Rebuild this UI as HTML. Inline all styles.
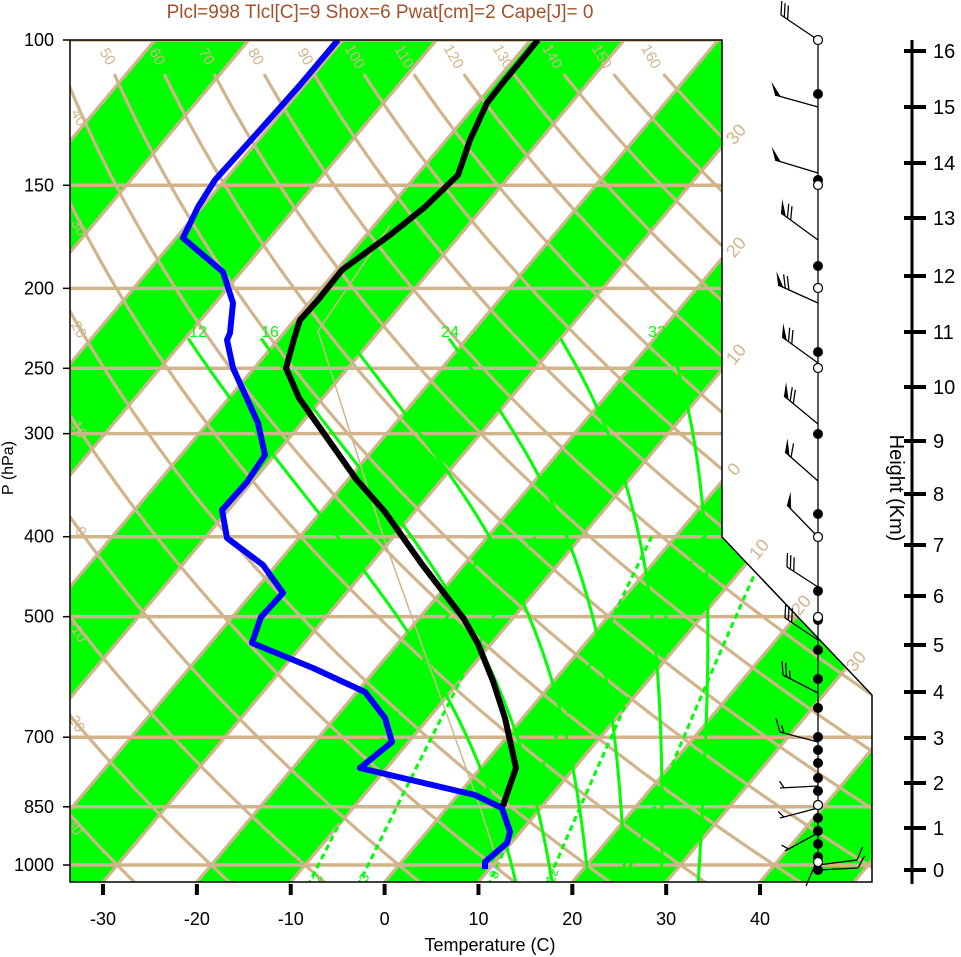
<!DOCTYPE html>
<html><head><meta charset="utf-8"><style>
html,body{margin:0;padding:0;background:#fff;}
svg{display:block;font-family:"Liberation Sans",Arial,sans-serif;}
</style></head><body>
<svg id="s" width="961" height="957" viewBox="0 0 961 957" xmlns="http://www.w3.org/2000/svg">
<defs><clipPath id="cp"><path d="M70,40 L722,40 L722,537 L872,695 L872,882 L70,882 Z"/></clipPath></defs>
<g id="plot" clip-path="url(#cp)"></g>
<g id="over"></g>
<path d="M70,40 L722,40 L722,537 L872,695 L872,882 L70,882 Z" fill="none" stroke="#000" stroke-width="1.5"/>
<text x="380" y="18" font-size="19" fill="#A0522D" text-anchor="middle">Plcl=998 Tlcl[C]=9 Shox=6 Pwat[cm]=2 Cape[J]= 0</text>
<g id="axes"></g>
</svg>
<script>
(function(){
var NS="http://www.w3.org/2000/svg";
var K=0.842;
function yP(p){return 40+358.3*Math.log(p/100);}
function xT(T,y){return 384.6+9.386*T+K*(882-y);}
function el(par,tag,attrs,txt){var e=document.createElementNS(NS,tag);for(var k in attrs)e.setAttribute(k,attrs[k]);if(txt!==undefined)e.textContent=txt;par.appendChild(e);return e;}
var plot=document.getElementById('plot'),over=document.getElementById('over'),axes=document.getElementById('axes');
var TAN="#D2B48C",GRN="#00FF00";
for(var T=-200;T<=60;T+=20){
  var pts=[[xT(T,0),0],[xT(T+10,0),0],[xT(T+10,960),960],[xT(T,960),960]];
  el(plot,'polygon',{points:pts.map(function(a){return a.join(',')}).join(' '),fill:GRN});
}
for(var T=-200;T<=80;T+=10){
  el(plot,'line',{x1:xT(T,0),y1:0,x2:xT(T,960),y2:960,stroke:TAN,'stroke-width':3.2});
}
[100,150,200,250,300,400,500,700,850,1000].forEach(function(p){var y=yP(p);
  el(plot,'line',{x1:60,y1:y,x2:900,y2:y,stroke:TAN,'stroke-width':3.5});});
for(var th=-40;th<=160;th+=10){
  var s=[];for(var p=1060;p>=110;p*=0.98){var y=yP(p);var Tc=(th+273.15)*Math.pow(p/1000,0.286)-273.15;s.push(xT(Tc,y).toFixed(1)+','+y.toFixed(1));}
  var y=yP(110);var Tc=(th+273.15)*Math.pow(0.11,0.286)-273.15;s.push(xT(Tc,y).toFixed(1)+','+y.toFixed(1));
  el(plot,'polyline',{points:s.join(' '),fill:'none',stroke:TAN,'stroke-width':3.2});
}
function es(Tc){return 6.112*Math.exp(17.67*Tc/(Tc+243.5));}
function dTdp(T,p){var Tc=T-273.15;var e=es(Tc);var rs=0.622*e/(p-e);var Rd=287,L=2.5e6,cp=1004;
  return (1/p)*(Rd*T+L*rs)/(cp+L*L*rs*0.622/(Rd*T*T));}
[12,16,20,24,28,32].forEach(function(tw){
  var T=tw+273.15,p=1000,pts=[];
  var Td=T,pd=1000;while(pd<1060){Td+=dTdp(Td,pd)*2;pd+=2;}
  T=Td;p=1060;
  while(p>228){var y=yP(p);pts.push(xT(T-273.15,y).toFixed(1)+','+y.toFixed(1));T-=dTdp(T,p)*2;p-=2;}
  el(plot,'polyline',{points:pts.join(' '),fill:'none',stroke:GRN,'stroke-width':3});
});
[2,3,8,12,20].forEach(function(w){
  var pts=[];for(var p=1060;p>=400;p-=10){var e=w*p/(622+w);var l=Math.log(e/6.112);var Td=243.5*l/(17.67-l);var y=yP(p);pts.push(xT(Td,y).toFixed(1)+','+y.toFixed(1));}
  el(plot,'polyline',{points:pts.join(' '),fill:'none',stroke:GRN,'stroke-width':3,'stroke-dasharray':'6,4'});
});
el(plot,'polyline',{points:'390,225 318,331 384,539 481,810 500,870',fill:'none',stroke:TAN,'stroke-width':1.5});
function lab(par,x,y,t,col,rot,fs){el(par,'text',{x:x,y:y,fill:col,'font-size':fs||14,'text-anchor':'middle','dominant-baseline':'middle',transform:'rotate('+rot+' '+x+' '+y+')'},t);}
var top=[50,60,70,80,90,100,110,120,130,140,150,160];
top.forEach(function(t,i){lab(plot,107+i*49.4,57,String(t),TAN,60,15);});
[[40,78,118],[30,78,228],[20,78,330],[10,78,430],[0,80,532],[-10,77,632],[-20,75,722],[-30,73,825]].forEach(function(a){lab(plot,a[1],a[2],String(a[0]),TAN,60,15);});
lab(over,737,135,'30',TAN,-50,18);lab(over,737,248,'20',TAN,-50,18);lab(over,737,355,'10',TAN,-50,18);lab(over,735,470,'0',TAN,-50,18);
lab(over,760,550,'10',TAN,-50,18);lab(over,802,606,'20',TAN,-50,18);lab(over,857,662,'30',TAN,-50,18);
[[12,198,333],[16,270,333],[24,450,333],[32,657,333]].forEach(function(a){lab(plot,a[1],a[2],String(a[0]),GRN,0,16);});
[['2',318,878],['3',365,878],['8',495,875],['12',553,876]].forEach(function(a){lab(plot,a[1],a[2],a[0],GRN,-70,13);});
el(plot,'polyline',{points:'338,40 300,85 260,130 215,180 198,207 183,238 223,272 233,303 230,333 227,340 233,368 258,423 265,455 247,482 222,510 227,538 263,565 283,593 261,617 252,643 313,668 365,692 385,718 392,742 360,768 475,795 502,808 510,832 507,843 485,862 485,869',fill:'none',stroke:'#0000FF','stroke-width':6,'stroke-linejoin':'round'});
el(plot,'polyline',{points:'538,40 520,62 505,80 487,103 470,140 458,175 425,207 390,235 342,270 318,300 300,320 294,339 286,368 299,398 356,479 385,512 421,563 464,619 478,644 493,681 505,718 516,768 509,788 503,806',fill:'none',stroke:'#000','stroke-width':6,'stroke-linejoin':'round'});
el(over,'line',{x1:818,y1:40,x2:818,y2:870,stroke:'#000','stroke-width':1.3});
function barb(x0,y0,x1,y1,spec){
  el(over,'line',{x1:x0,y1:y0,x2:x1,y2:y1,stroke:'#000','stroke-width':1.3});
  var dx=x1-x0,dy=y1-y0,L=Math.sqrt(dx*dx+dy*dy),ux=dx/L,uy=dy/L,nx=-uy,ny=ux;
  if(ux>0){nx=uy;ny=-ux;}
  var fx=nx+0.6*ux,fy=ny+0.6*uy,fl=Math.sqrt(fx*fx+fy*fy);fx/=fl;fy/=fl;
  var px=x1,py=y1;
  for(var i=0;i<spec.length;i++){var c=spec[i];
    if(c=='P'){el(over,'polygon',{points:px+','+py+' '+(px+fx*14)+','+(py+fy*14)+' '+(px-ux*6)+','+(py-uy*6),fill:'#000'});px-=ux*8;py-=uy*8;}
    else if(c=='F'){el(over,'line',{x1:px,y1:py,x2:px+fx*14,y2:py+fy*14,stroke:'#000','stroke-width':1.3});px-=ux*4;py-=uy*4;}
    else {if(i==0){px-=ux*4;py-=uy*4;}el(over,'line',{x1:px,y1:py,x2:px+fx*8,y2:py+fy*8,stroke:'#000','stroke-width':1.3});px-=ux*4;py-=uy*4;}
  }
}
[[818,40,781,15,'FFF'],[818,107,775,95,'P'],[818,173,775,160,'P'],[818,240,781,213,'PFF'],[818,303,778,285,'PFF'],[818,363,782,337,'PFF'],[818,424,784,396,'PFF'],[818,481,785,452,'PF'],[818,537,787,505,'P'],[818,587,787,567,'FFF'],[818,640,785,618,'FFF'],[818,693,783,675,'FFH'],[818,742,780,732,'FH'],[818,786,780,788,'H'],[818,808,780,818,'H'],[818,833,785,851,'H'],[818,865,857,860,'F'],[818,870,858,868,'F'],[818,858,806,886,'']].forEach(function(b){barb(b[0],b[1],b[2],b[3],b[4]);});
[94,180,266,352,434,514,591,620,650,679,708,737,750,763,778,791,805,818,831,844,857,870].forEach(function(y){el(over,'circle',{cx:818,cy:y,r:5,fill:'#000'});});
[40,185,288,368,537,617,805,862].forEach(function(y){el(over,'circle',{cx:818,cy:y,r:4.5,fill:'#fff',stroke:'#000','stroke-width':1.2});});
[100,150,200,250,300,400,500,700,850,1000].forEach(function(p){var y=yP(p);
  el(axes,'line',{x1:63,y1:y,x2:70,y2:y,stroke:'#000','stroke-width':1.5});
  el(axes,'text',{x:54,y:y+6,'font-size':18,'text-anchor':'end',fill:'#000'},String(p));});
el(axes,'text',{x:13,y:468,'font-size':16,'text-anchor':'middle',transform:'rotate(-90 13 468)'},'P (hPa)');
for(var T=-30;T<=40;T+=10){var x=xT(T,882);
  el(axes,'line',{x1:x,y1:884,x2:x,y2:895,stroke:'#000','stroke-width':4});
  el(axes,'text',{x:x,y:925,'font-size':18,'text-anchor':'middle'},String(T));}
el(axes,'text',{x:490,y:951,'font-size':18,'text-anchor':'middle'},'Temperature (C)');
el(axes,'line',{x1:912,y1:40,x2:912,y2:884,stroke:'#000','stroke-width':3});
[870,828,783,738,692,645,596,545,494,441,387,332,276,218,163,107,51].forEach(function(y,i){
  el(axes,'line',{x1:904,y1:y,x2:926,y2:y,stroke:'#000','stroke-width':4});
  el(axes,'text',{x:933,y:y+7,'font-size':20},String(i));});
el(axes,'text',{x:890,y:488,'font-size':20,'text-anchor':'middle',transform:'rotate(90 890 488)'},'Height (Km)');
})();
</script>
</body></html>
